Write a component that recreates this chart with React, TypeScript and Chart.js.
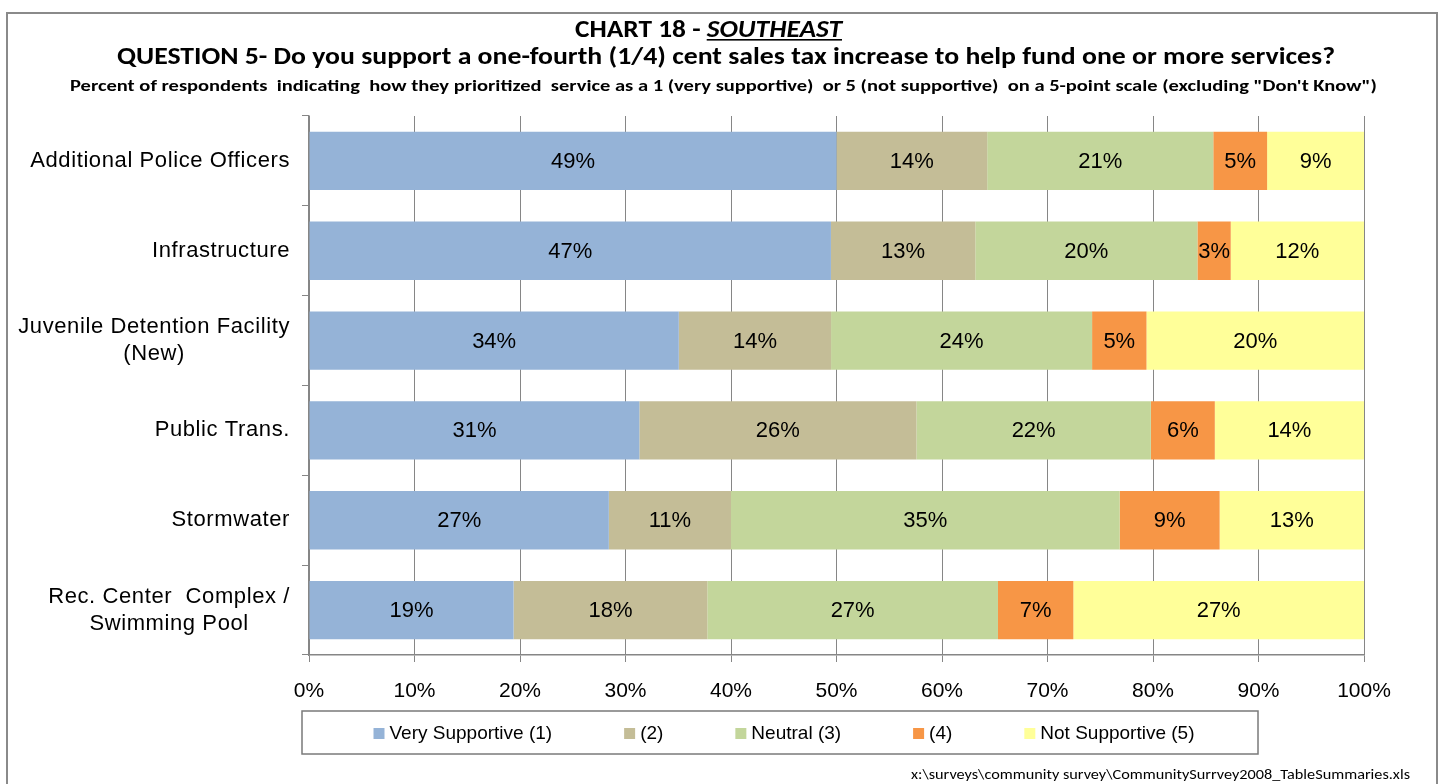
import React, { useEffect, useRef } from 'react';
import { Chart, registerables } from 'chart.js';

Chart.register(...registerables);

// ---------- data ----------
const CATEGORIES: string[][] = [
  ['Additional Police Officers'],
  ['Infrastructure'],
  ['Juvenile Detention Facility', '(New)'],
  ['Public Trans.'],
  ['Stormwater'],
  ['Rec. Center  Complex /', 'Swimming Pool'],
];
const SERIES_NAMES = ['Very Supportive (1)', '(2)', 'Neutral (3)', '(4)', 'Not Supportive (5)'];
const VERY_SUPPORTIVE = [49, 47, 34, 31, 27, 19];
const LEVEL_2 = [14, 13, 14, 26, 11, 18];
const NEUTRAL = [21, 20, 24, 22, 35, 27];
const LEVEL_4 = [5, 3, 5, 6, 9, 7];
const NOT_SUPPORTIVE = [9, 12, 20, 14, 13, 27];
const SERIES_COLORS = ['#95B3D7', '#C4BD97', '#C3D69B', '#F79646', '#FFFF99'];
const X_TICK_STEP = 10;

const TITLE_PREFIX = 'CHART 18 - ';
const TITLE_REGION = 'SOUTHEAST';
const QUESTION = 'QUESTION 5- Do you support a one-fourth (1/4) cent sales tax increase to help fund one or more services?';
const SUBTITLE =
  'Percent of respondents  indicating  how they prioritized  service as a 1 (very supportive)  or 5 (not supportive)  on a 5-point scale (excluding "Don\'t Know")';
const FOOTER = 'x:\\surveys\\community survey\\CommunitySurrvey2008_TableSummaries.xls';

// ---------- styles ----------
const ARIAL = '"Liberation Sans", Arial, sans-serif';
const CALIBRI = 'Carlito, Calibri, Lato, "Open Sans", sans-serif';
const GRID = '#868686';

function drawFitted(
  ctx: CanvasRenderingContext2D,
  text: string,
  font: string,
  left: number,
  baseline: number,
  targetW: number
) {
  ctx.font = font;
  const w = ctx.measureText(text).width;
  const s = targetW / w;
  ctx.save();
  ctx.translate(left, baseline);
  ctx.scale(s, 1);
  ctx.textAlign = 'left';
  ctx.textBaseline = 'alphabetic';
  ctx.fillText(text, 0, 0);
  ctx.restore();
}

const decorPlugin = {
  id: 'decor',
  beforeDraw(chart: any) {
    const ctx: CanvasRenderingContext2D = chart.ctx;
    ctx.save();
    ctx.fillStyle = '#ffffff';
    ctx.fillRect(0, 0, chart.width, chart.height);
    ctx.restore();
  },
  afterDraw(chart: any) {
    const ctx: CanvasRenderingContext2D = chart.ctx;
    const area = chart.chartArea;
    ctx.save();
    // outer frame
    ctx.strokeStyle = '#8a8a8a';
    ctx.lineWidth = 2;
    ctx.strokeRect(7, 13, 1430, 790);

    ctx.fillStyle = '#000';
    // title line 1
    const f1 = `bold 24px ${CALIBRI}`;
    const f1i = `italic bold 24px ${CALIBRI}`;
    ctx.font = f1;
    const w1 = ctx.measureText(TITLE_PREFIX).width;
    ctx.font = f1i;
    const w2 = ctx.measureText(TITLE_REGION).width;
    const s1 = 267 / (w1 + w2);
    ctx.save();
    ctx.translate(575, 37);
    ctx.scale(s1, 1);
    ctx.textBaseline = 'alphabetic';
    ctx.textAlign = 'left';
    ctx.font = f1;
    ctx.fillText(TITLE_PREFIX, 0, 0);
    ctx.font = f1i;
    ctx.fillText(TITLE_REGION, w1, 0);
    ctx.fillRect(w1, 2, w2, 1.6);
    ctx.restore();

    // title line 2 and 3
    drawFitted(ctx, QUESTION, `bold 24px ${CALIBRI}`, 117, 64, 1218);
    drawFitted(ctx, SUBTITLE, `bold 16px ${CALIBRI}`, 70, 91, 1307);

    // footer
    drawFitted(ctx, FOOTER, `14px ${CALIBRI}`, 911, 779, 499);

    // category labels (block right-aligned, lines centred)
    const yScale = chart.scales.y;
    ctx.font = `22px ${ARIAL}`;
    (ctx as any).letterSpacing = '0.6px';
    ctx.textBaseline = 'middle';
    ctx.textAlign = 'center';
    const right = area.left - 19;
    const lh = 27;
    CATEGORIES.forEach((lines, i) => {
      const cy = yScale.getPixelForValue(i);
      const bw = Math.max(...lines.map((l) => ctx.measureText(l).width));
      const cx = right - bw / 2;
      lines.forEach((l, j) => {
        const y = cy + (j - (lines.length - 1) / 2) * lh;
        ctx.fillText(l, cx, y);
      });
    });
    (ctx as any).letterSpacing = '0px';

    // legend
    const box = { left: 302, top: 711, right: 1258, bottom: 754 };
    ctx.strokeStyle = '#7a7a7a';
    ctx.lineWidth = 1.5;
    ctx.strokeRect(box.left, box.top, box.right - box.left, box.bottom - box.top);
    ctx.font = `19px ${ARIAL}`;
    ctx.textAlign = 'left';
    ctx.textBaseline = 'middle';
    const sq = 11;
    const gapSq = 5;
    const gapItems = 72;
    const widths = chart.data.datasets.map((d: any) => ctx.measureText(d.label).width);
    const total =
      widths.reduce((a: number, w: number) => a + sq + gapSq + w, 0) + gapItems * (widths.length - 1);
    let x = (box.left + box.right) / 2 - total / 2 + 4;
    const cy = (box.top + box.bottom) / 2 + 1;
    chart.data.datasets.forEach((d: any, i: number) => {
      ctx.fillStyle = d.backgroundColor;
      ctx.fillRect(x, cy - sq / 2, sq, sq);
      ctx.fillStyle = '#000';
      ctx.fillText(d.label, x + sq + gapSq, cy);
      x += sq + gapSq + widths[i] + gapItems;
    });
    ctx.restore();
  },
  afterDatasetsDraw(chart: any) {
    const ctx: CanvasRenderingContext2D = chart.ctx;
    ctx.save();
    ctx.font = `22px ${ARIAL}`;
    ctx.fillStyle = '#000';
    ctx.textAlign = 'center';
    ctx.textBaseline = 'middle';
    chart.data.datasets.forEach((d: any, di: number) => {
      const meta = chart.getDatasetMeta(di);
      meta.data.forEach((el: any, i: number) => {
        const cx = (el.x + el.base) / 2;
        ctx.fillText(`${d.raw[i]}%`, cx, el.y + 1);
      });
    });
    ctx.restore();
  },
};

export default function App() {
  const ref = useRef<HTMLCanvasElement | null>(null);

  useEffect(() => {
    if (!ref.current) return;
    const rawSeries = [VERY_SUPPORTIVE, LEVEL_2, NEUTRAL, LEVEL_4, NOT_SUPPORTIVE];
    const totals = CATEGORIES.map((_, i) => rawSeries.reduce((a, s) => a + s[i], 0));
    const datasets = rawSeries.map((s, k) => ({
      label: SERIES_NAMES[k],
      data: s.map((v, i) => (v / totals[i]) * 100),
      raw: s,
      backgroundColor: SERIES_COLORS[k],
      borderWidth: 0,
      barPercentage: 1,
      categoryPercentage: 0.65,
    }));

    const chart = new Chart(ref.current, {
      type: 'bar',
      data: { labels: CATEGORIES.map((c) => c.join(' ')), datasets } as any,
      options: {
        indexAxis: 'y',
        responsive: false,
        animation: false,
        layout: { padding: { left: 0, right: 78, top: 116, bottom: 69 } },
        scales: {
          x: {
            stacked: true,
            min: 0,
            max: 100,
            ticks: {
              stepSize: X_TICK_STEP,
              callback: (v: any) => `${v}%`,
              font: { family: ARIAL, size: 21 },
              color: '#000',
              padding: 17,
              maxRotation: 0,
            },
            grid: { color: GRID, lineWidth: 1, tickLength: 7, drawTicks: true },
            border: { color: GRID, width: 1.5 },
            afterFit: (s: any) => {
              s.height = 60;
            },
          },
          y: {
            stacked: true,
            ticks: { display: false },
            grid: { offset: true, drawOnChartArea: false, drawTicks: true, tickLength: 7, color: GRID },
            border: { color: GRID, width: 1.5 },
            afterFit: (s: any) => {
              s.width = 309;
            },
          },
        },
        plugins: {
          legend: { display: false },
          tooltip: { enabled: false },
          title: { display: false },
        },
      } as any,
      plugins: [decorPlugin],
    });
    return () => chart.destroy();
  }, []);

  return (
    <div style={{ position: 'absolute', left: 0, top: 0, width: 1442, height: 784, background: '#fff' }}>
      <canvas ref={ref} width={1442} height={784} style={{ display: 'block' }} />
    </div>
  );
}
